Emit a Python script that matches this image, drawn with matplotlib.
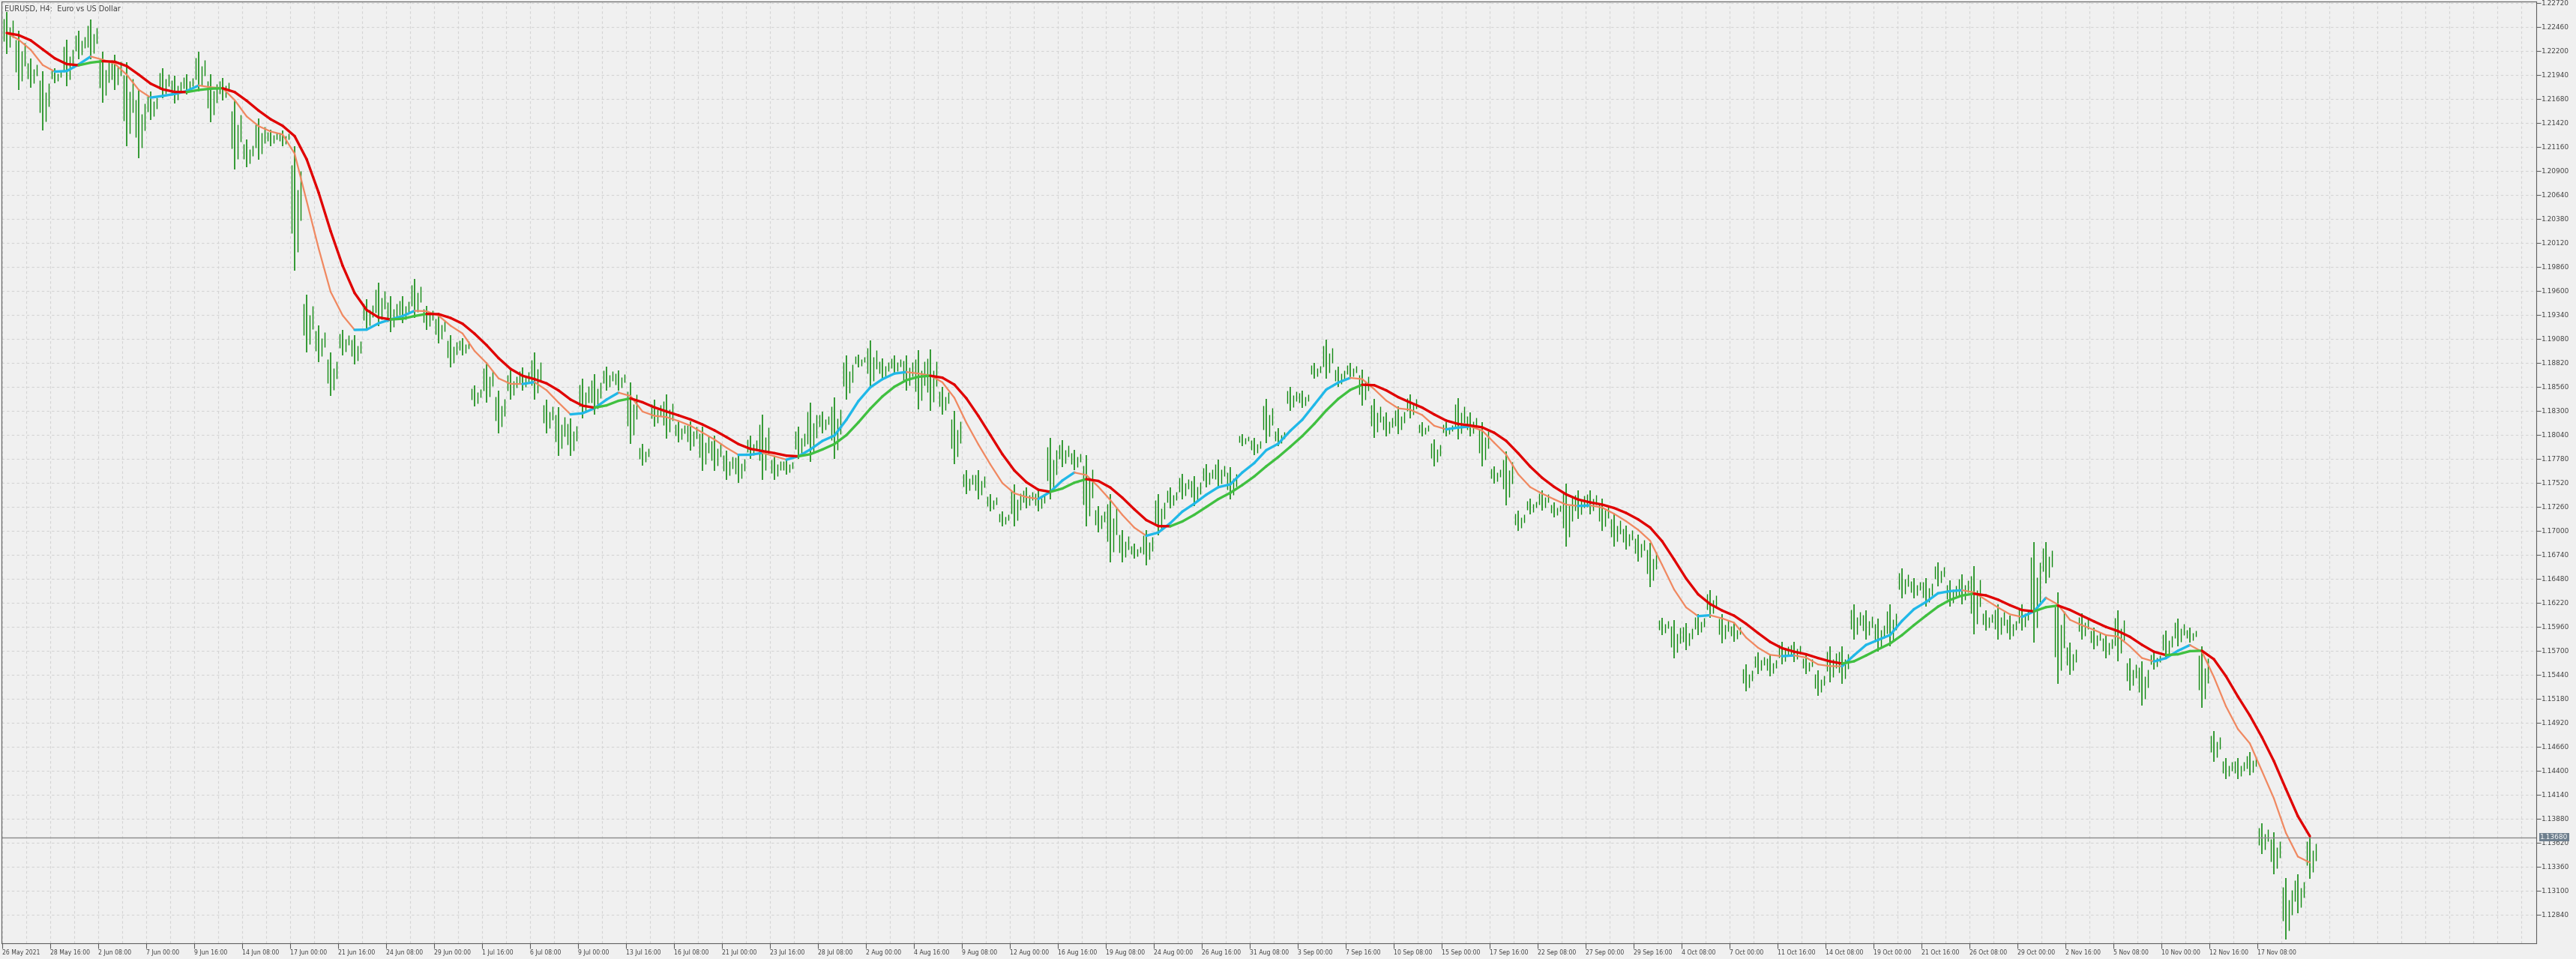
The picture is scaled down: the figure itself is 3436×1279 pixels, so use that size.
import matplotlib
matplotlib.use("Agg")
import matplotlib.pyplot as plt
import numpy as np
from matplotlib.collections import LineCollection

# EURUSD H4, one sample = 4 bars (high / low)
highs = [1.2262, 1.2242, 1.2212, 1.2198, 1.2201, 1.2232, 1.2242, 1.2254, 1.2219, 1.2216,
         1.2208, 1.2178, 1.2176, 1.2201, 1.2193, 1.2195, 1.2219, 1.2195, 1.2191, 1.2166,
         1.2124, 1.2147, 1.2135, 1.2134, 1.2117, 1.1956, 1.1923, 1.1893, 1.1918, 1.1912,
         1.1951, 1.1969, 1.1954, 1.1954, 1.1973, 1.1944, 1.1935, 1.1912, 1.1909,
         1.1858, 1.1883, 1.1852, 1.1874, 1.1877, 1.1893, 1.1842, 1.1834, 1.1822, 1.1865,
         1.1870, 1.1878, 1.1874, 1.1861, 1.1794, 1.1842, 1.1848, 1.1819, 1.1819, 1.1813,
         1.1803, 1.1787, 1.1784, 1.1803, 1.1826, 1.1781, 1.1778, 1.1813, 1.1839, 1.1829,
         1.1845, 1.1890, 1.1891, 1.1906, 1.1887, 1.1890, 1.1890, 1.1896,
         1.1897, 1.1856, 1.1830, 1.1766, 1.1766, 1.1740, 1.1721, 1.1750, 1.1747, 1.1744,
         1.1801, 1.1798, 1.1788, 1.1782, 1.1727, 1.1740, 1.1701, 1.1686, 1.1701, 1.1740,
         1.1747, 1.1762, 1.1759, 1.1772, 1.1777, 1.1769, 1.1805, 1.1801, 1.1843, 1.1811,
         1.1856, 1.1852, 1.1882, 1.1907, 1.1878, 1.1882, 1.1875, 1.1843,
         1.1828, 1.1835, 1.1848, 1.1818, 1.1799, 1.1818, 1.1844, 1.1828, 1.1818, 1.1770,
         1.1786, 1.1722, 1.1735, 1.1744, 1.1731, 1.1751, 1.1744, 1.1744, 1.1735, 1.1718,
         1.1706, 1.1696, 1.1687, 1.1606, 1.1603, 1.1600, 1.1610, 1.1636, 1.1610, 1.1600,
         1.1555, 1.1568, 1.1565, 1.1580, 1.1580, 1.1565, 1.1549, 1.1575,
         1.1575, 1.1620, 1.1614, 1.1605, 1.1620, 1.1659, 1.1649, 1.1649, 1.1666, 1.1646,
         1.1653, 1.1662, 1.1614, 1.1620, 1.1608, 1.1620, 1.1688, 1.1688, 1.1633, 1.1579,
         1.1611, 1.1595, 1.1588, 1.1614, 1.1562, 1.1559, 1.1569, 1.1592, 1.1605, 1.1595,
         1.1575, 1.1483, 1.1454, 1.1454, 1.1460, 1.1383, 1.1373, 1.1324, 1.1328, 1.1371]
lows = [1.2217, 1.2178, 1.2180, 1.2134, 1.2185, 1.2182, 1.2211, 1.2211, 1.2164, 1.2178,
        1.2117, 1.2104, 1.2145, 1.2169, 1.2163, 1.2173, 1.2176, 1.2143, 1.2166, 1.2092,
        1.2094, 1.2102, 1.2117, 1.2117, 1.1982, 1.1893, 1.1883, 1.1846, 1.1890, 1.1880,
        1.1918, 1.1922, 1.1915, 1.1925, 1.1931, 1.1918, 1.1903, 1.1877, 1.1890,
        1.1835, 1.1839, 1.1806, 1.1842, 1.1852, 1.1842, 1.1806, 1.1781, 1.1781, 1.1822,
        1.1826, 1.1852, 1.1852, 1.1794, 1.1771, 1.1813, 1.1800, 1.1796, 1.1787, 1.1765,
        1.1765, 1.1755, 1.1752, 1.1778, 1.1755, 1.1755, 1.1761, 1.1778, 1.1775, 1.1806,
        1.1778, 1.1842, 1.1877, 1.1855, 1.1864, 1.1870, 1.1852, 1.1832,
        1.1830, 1.1826, 1.1772, 1.1740, 1.1734, 1.1721, 1.1705, 1.1705, 1.1724, 1.1721,
        1.1734, 1.1769, 1.1766, 1.1705, 1.1698, 1.1666, 1.1666, 1.1670, 1.1663, 1.1695,
        1.1724, 1.1734, 1.1727, 1.1747, 1.1747, 1.1734, 1.1792, 1.1782, 1.1795, 1.1792,
        1.1830, 1.1833, 1.1865, 1.1865, 1.1856, 1.1865, 1.1836, 1.1801,
        1.1802, 1.1805, 1.1822, 1.1802, 1.1770, 1.1802, 1.1799, 1.1802, 1.1770, 1.1751,
        1.1728, 1.1700, 1.1718, 1.1722, 1.1715, 1.1683, 1.1713, 1.1718, 1.1700, 1.1683,
        1.1680, 1.1667, 1.1639, 1.1587, 1.1562, 1.1571, 1.1587, 1.1606, 1.1578, 1.1580,
        1.1526, 1.1545, 1.1542, 1.1555, 1.1558, 1.1545, 1.1521, 1.1536,
        1.1534, 1.1582, 1.1582, 1.1569, 1.1575, 1.1627, 1.1627, 1.1618, 1.1640, 1.1618,
        1.1620, 1.1588, 1.1592, 1.1582, 1.1582, 1.1592, 1.1579, 1.1643, 1.1534, 1.1544,
        1.1582, 1.1572, 1.1562, 1.1559, 1.1527, 1.1511, 1.1550, 1.1562, 1.1575, 1.1579,
        1.1508, 1.1450, 1.1431, 1.1431, 1.1435, 1.1350, 1.1328, 1.1257, 1.1286, 1.1323]

x_labels = ["26 May 2021", "28 May 16:00", "2 Jun 08:00", "7 Jun 00:00", "9 Jun 16:00",
            "14 Jun 08:00", "17 Jun 00:00", "21 Jun 16:00", "24 Jun 08:00", "29 Jun 00:00",
            "1 Jul 16:00", "6 Jul 08:00", "9 Jul 00:00", "13 Jul 16:00", "16 Jul 08:00",
            "21 Jul 00:00", "23 Jul 16:00", "28 Jul 08:00", "2 Aug 00:00", "4 Aug 16:00",
            "9 Aug 08:00", "12 Aug 00:00", "16 Aug 16:00", "19 Aug 08:00", "24 Aug 00:00",
            "26 Aug 16:00", "31 Aug 08:00", "3 Sep 00:00", "7 Sep 16:00", "10 Sep 08:00",
            "15 Sep 00:00", "17 Sep 16:00", "22 Sep 08:00", "27 Sep 00:00", "29 Sep 16:00",
            "4 Oct 08:00", "7 Oct 00:00", "11 Oct 16:00", "14 Oct 08:00", "19 Oct 00:00",
            "21 Oct 16:00", "26 Oct 08:00", "29 Oct 00:00", "2 Nov 16:00", "5 Nov 08:00",
            "10 Nov 00:00", "12 Nov 16:00", "17 Nov 08:00"]
last_price = 1.13680

highs = np.array(highs)
lows = np.array(lows)
n = len(highs)
xs = np.arange(n) * 4 + 1.5
mid = (highs + lows) / 2


def ema(a, span):
    k = 2.0 / (span + 1)
    out = np.empty_like(a)
    out[0] = a[0]
    for i in range(1, len(a)):
        out[i] = out[i - 1] + k * (a[i] - out[i - 1])
    return out


fast = ema(ema(mid, 3), 3)
slow = ema(ema(fast, 2.5), 2.5)

bg = '#f0f0f0'
fig = plt.figure(figsize=(34.36, 12.79), dpi=100, facecolor=bg)
ax = fig.add_axes([2 / 3436, 21 / 1279, 3381 / 3436, 1256 / 1279], facecolor=bg)

ax.set_xlim(-0.25, 845)
ax.set_ylim(1.12531, 1.22736)

yticks = np.round(np.arange(1.12840, 1.22721, 0.0026), 5)
ax.set_yticks(yticks)
ax.set_yticklabels(['%.5f' % v for v in yticks])
ax.set_xticks(np.arange(len(x_labels)) * 16)
ax.set_xticklabels(x_labels)
ax.set_xticks(np.arange(0, 845, 8), minor=True)
ax.yaxis.tick_right()
ax.tick_params(axis='y', direction='out', length=4, color='#606060', labelsize=6.5,
               labelcolor='#404040', pad=1)
ax.tick_params(axis='x', which='major', direction='out', length=5, color='#606060',
               labelsize=5.6, labelcolor='#404040', pad=1)
ax.tick_params(axis='x', which='minor', length=0)
for lab in ax.get_xticklabels():
    lab.set_horizontalalignment('left')
ax.grid(True, which='both', axis='x', color='#d4d4d4', ls=(0, (3, 3)), lw=0.8)
ax.grid(True, which='major', axis='y', color='#d4d4d4', ls=(0, (3, 3)), lw=0.8)
ax.set_axisbelow(True)
for s in ax.spines.values():
    s.set_color('#606060')

# bars
bar_col = '#128a12'
ax.vlines(xs, lows, highs, color=bar_col, lw=1.2)
rng = highs - lows
ax.vlines(xs - 1.0, lows + rng * 0.3, highs - rng * 0.15, color=bar_col, lw=1.0)
ax.vlines(xs + 1.0, lows + rng * 0.15, highs - rng * 0.35, color=bar_col, lw=1.0)
ax.vlines(xs + 2.0, lows + rng * 0.4, highs - rng * 0.2, color=bar_col, lw=1.0)


def colored_line(y, up_col, dn_col, lw_up, lw_dn):
    pts = np.column_stack([xs, y])
    segs = np.stack([pts[:-1], pts[1:]], axis=1)
    rising = np.diff(y) >= 0
    cols = [up_col if r else dn_col for r in rising]
    lws = [lw_up if r else lw_dn for r in rising]
    ax.add_collection(LineCollection(segs, colors=cols, linewidths=lws,
                                     capstyle='round', joinstyle='round'))


colored_line(fast, '#20b8e8', '#f08860', 2.4, 1.6)
colored_line(slow, '#40c040', '#e00000', 2.4, 2.4)

ax.axhline(last_price, color='#8a8a8a', lw=1)
ax.text(1.0015, last_price, '%.5f' % last_price, transform=ax.get_yaxis_transform(),
        ha='left', va='center', fontsize=6.5, color='white',
        bbox=dict(boxstyle='square,pad=0.15', fc='#6e7f8e', ec='none'))

ax.text(0.0012, 0.996, 'EURUSD, H4:  Euro vs US Dollar', transform=ax.transAxes,
        ha='left', va='top', fontsize=7, color='#404040')

fig.savefig('out.png', dpi=100, facecolor=bg)
